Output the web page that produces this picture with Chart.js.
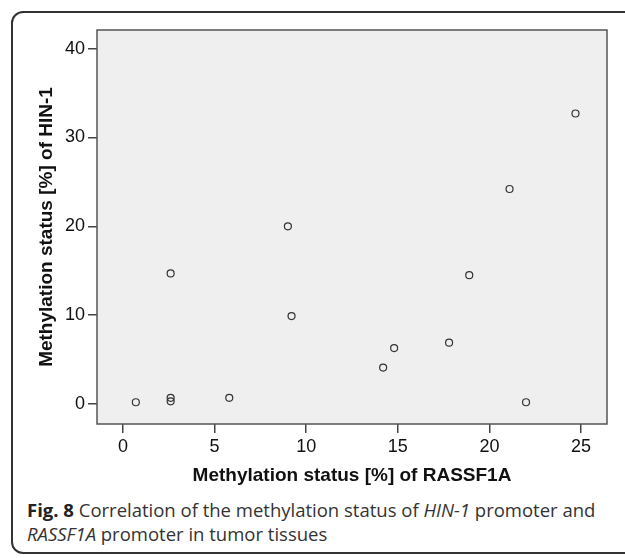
<!DOCTYPE html>
<html>
<head>
<meta charset="utf-8">
<script src="https://cdn.jsdelivr.net/npm/chart.js@4"></script>
<style>
  html, body { margin: 0; padding: 0; background: #fff; }
  body { width: 625px; height: 558px; position: relative; overflow: hidden; }
  #frame {
    position: absolute; left: 11px; top: 11px; width: 640px; height: 543px;
    border: 2px solid #333; border-radius: 12px; box-sizing: border-box;
  }
  #wrap { position: absolute; left: 0; top: 0; width: 625px; height: 490px; }
  #caption {
    position: absolute; left: 27px; top: 498px; width: 595px; white-space: nowrap;
    font-family: "Open Sans", "Noto Sans", sans-serif; font-size: 18.5px;
    line-height: 24px; color: #333;
  }
  #caption b { color: #222; }
</style>
</head>
<body>
<div id="frame"></div>
<div id="wrap"><canvas id="grafico" width="625" height="490"></canvas></div>
<div id="caption"><b>Fig. 8</b> Correlation of the methylation status of <i>HIN-1</i> promoter and<br><i>RASSF1A</i> promoter in tumor tissues</div>
<script>
// Datos (RASSF1A en x, HIN-1 en y)
const rassf1a = [0.7, 2.6, 2.6, 2.6, 5.8, 9.0, 9.2, 14.2, 14.8, 17.8, 18.9, 21.1, 22.0, 24.7];
const hin1    = [0.2, 0.7, 0.3, 14.7, 0.7, 20.0, 9.9, 4.1, 6.3, 6.9, 14.5, 24.2, 0.2, 32.7];
const xTicks = [0, 5, 10, 15, 20, 25];
const yTicks = [0, 10, 20, 30, 40];

const puntos = rassf1a.map((x, i) => ({ x: x, y: hin1[i] }));

const fuente = 'Arial, "Liberation Sans", sans-serif';

// Fondo gris y marco del área de datos
const fondoArea = {
    id: 'fondoArea',
    beforeDraw(chart) {
        const a = chart.chartArea;
        const ctx = chart.ctx;
        ctx.save();
        ctx.fillStyle = '#efefef';
        ctx.fillRect(a.left, a.top, a.right - a.left, a.bottom - a.top);
        ctx.restore();
    },
    afterDraw(chart) {
        const a = chart.chartArea;
        const ctx = chart.ctx;
        ctx.save();
        ctx.strokeStyle = '#555';
        ctx.lineWidth = 1.5;
        ctx.strokeRect(a.left, a.top, a.right - a.left, a.bottom - a.top);
        ctx.restore();
    }
};

const ctx = document.getElementById('grafico').getContext('2d');
new Chart(ctx, {
    type: 'scatter',
    data: {
        datasets: [{
            data: puntos,
            pointStyle: 'circle',
            pointRadius: 3.5,
            pointBorderWidth: 1.2,
            pointBorderColor: '#333',
            pointBackgroundColor: 'rgba(0,0,0,0)'
        }]
    },
    options: {
        responsive: false,
        animation: false,
        layout: { padding: { left: 35, top: 30, right: 18, bottom: 0 } },
        plugins: { legend: { display: false }, tooltip: { enabled: false } },
        scales: {
            x: {
                type: 'linear',
                min: -1.42, max: 26.42,
                afterBuildTicks: s => { s.ticks = xTicks.map(v => ({ value: v })); },
                afterFit: s => { s.height = 66; },
                grid: { drawOnChartArea: false, drawTicks: true, tickLength: 9, color: '#444', lineWidth: 1.5 },
                border: { display: false },
                ticks: { color: '#111', padding: 3, font: { family: fuente, size: 18 } },
                title: {
                    display: true, text: 'Methylation status [%] of RASSF1A', color: '#111',
                    font: { family: fuente, size: 19, weight: 'bold' },
                    padding: { top: 0, bottom: 3 }
                }
            },
            y: {
                type: 'linear',
                min: -2.25, max: 42.1,
                afterBuildTicks: s => { s.ticks = yTicks.map(v => ({ value: v })); },
                afterFit: s => { s.width = 62; },
                grid: { drawOnChartArea: false, drawTicks: true, tickLength: 9, color: '#444', lineWidth: 1.5 },
                border: { display: false },
                ticks: { color: '#111', padding: 3, font: { family: fuente, size: 18 } },
                title: {
                    display: true, text: 'Methylation status [%] of HIN-1', color: '#111',
                    font: { family: fuente, size: 19, weight: 'bold' },
                    padding: 0
                }
            }
        }
    },
    plugins: [fondoArea]
});
</script>
</body>
</html>
